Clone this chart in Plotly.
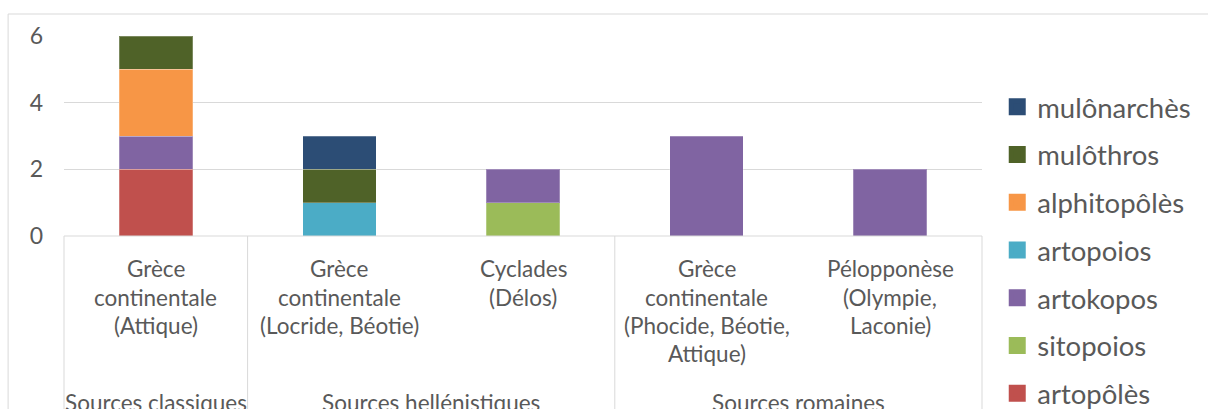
import plotly.graph_objects as go

# ---- data ----
categories = [
    "Grèce continentale (Attique)",
    "Grèce continentale (Locride, Béotie)",
    "Cyclades (Délos)",
    "Grèce continentale (Phocide, Béotie, Attique)",
    "Pélopponèse (Olympie, Laconie)",
]
category_lines = [
    ["Grèce", "continentale", "(Attique)"],
    ["Grèce", "continentale", "(Locride, Béotie)"],
    ["Cyclades", "(Délos)"],
    ["Grèce", "continentale", "(Phocide, Béotie,", "Attique)"],
    ["Pélopponèse", "(Olympie,", "Laconie)"],
]
groups = ["Sources classiques", "Sources hellénistiques", "Sources romaines"]
group_sizes = [1, 2, 2]

artopoles = [2, 0, 0, 0, 0]
sitopoios = [0, 0, 1, 0, 0]
artokopos = [1, 0, 1, 3, 2]
artopoios = [0, 1, 0, 0, 0]
alphitopoles = [2, 0, 0, 0, 0]
mulothros = [1, 1, 0, 0, 0]
mulonarches = [0, 1, 0, 0, 0]

y_ticks = [0, 2, 4, 6]

series = [
    ("artopôlès", artopoles, "#C0504D"),
    ("sitopoios", sitopoios, "#9BBB59"),
    ("artokopos", artokopos, "#8064A2"),
    ("artopoios", artopoios, "#4BACC6"),
    ("alphitopôlès", alphitopoles, "#F79646"),
    ("mulôthros", mulothros, "#4F6228"),
    ("mulônarchès", mulonarches, "#2C4D75"),
]

FONT = "Lato"
TXT = "#595959"
GRID = "#D9D9D9"
W, H = 1208, 440
L, T, PW, PH = 64, 36, 920, 200

fig = go.Figure()
ns = len(series)
for k, (name, vals, col) in enumerate(series):
    fig.add_trace(go.Bar(
        x=categories, y=vals, name=name, legendgroup=name,
        showlegend=False,
        marker=dict(color=col,
                    line=dict(width=[1 if v else 0 for v in vals],
                              color="rgba(255,255,255,0.25)")),
        width=0.4,
    ))
    # legend-only swatch (drawn on a hidden axis, outside its visible range)
    fig.add_trace(go.Bar(
        x=[name], y=[1], name=name, legendgroup=name,
        legendrank=ns - k, xaxis="x2", yaxis="y2",
        marker=dict(color=col, line=dict(width=5, color=col)),
        hoverinfo="skip",
    ))

n = len(categories)
shapes = []
# outer chart border
shapes.append(dict(type="rect", xref="paper", yref="paper",
                   x0=(8 - L) / PW, x1=2, y0=-3, y1=(T + PH - 14) / PH,
                   line=dict(color=GRID, width=1), fillcolor="rgba(0,0,0,0)", layer="below"))
# category axis box lines
shapes.append(dict(type="line", xref="paper", yref="paper", x0=0, x1=1, y0=0, y1=0,
                   line=dict(color=GRID, width=1)))
pos = 0
bounds = [0]
for s in group_sizes:
    pos += s
    bounds.append(pos)
for b in bounds:
    shapes.append(dict(type="line", xref="paper", yref="paper",
                       x0=b / n, x1=b / n, y0=0, y1=-3,
                       line=dict(color=GRID, width=1)))

annotations = []
line_shifts = [-32, -61, -89, -117]
for i, lines in enumerate(category_lines):
    for j, t in enumerate(lines):
        annotations.append(dict(x=categories[i], xref="x", y=0, yref="paper",
                                yshift=line_shifts[j], text=t, showarrow=False,
                                xanchor="center", yanchor="middle",
                                font=dict(family=FONT, size=22.5, color=TXT)))
start = 0
for g, s in zip(groups, group_sizes):
    center = (start + start + s) / 2 / n
    annotations.append(dict(x=center, xref="paper", y=0, yref="paper",
                            yshift=-166, text=g, showarrow=False,
                            xanchor="center", yanchor="middle",
                            font=dict(family=FONT, size=22.5, color=TXT)))
    start += s

fig.update_layout(
    width=W, height=H,
    margin=dict(l=L, r=W - L - PW, t=T, b=H - T - PH),
    paper_bgcolor="white", plot_bgcolor="white",
    barmode="stack",
    showlegend=True,
    legend=dict(traceorder="grouped", tracegroupgap=9,
                x=1.0166, xanchor="left", y=0.768, yanchor="top",
                maxheight=420,
                font=dict(family=FONT, size=27.5, color=TXT),
                bgcolor="rgba(0,0,0,0)"),
    xaxis=dict(type="category", showticklabels=False, showgrid=False,
               zeroline=False, showline=False, ticks="", range=[-0.5, n - 0.5]),
    yaxis=dict(range=[0, 6], tickvals=y_ticks, showgrid=True, gridcolor=GRID,
               gridwidth=1, zeroline=False, showline=False, ticks="",
               ticklabelstandoff=20,
               tickfont=dict(family=FONT, size=23, color=TXT)),
    xaxis2=dict(overlaying="x", visible=False, type="category"),
    yaxis2=dict(overlaying="y", visible=False, range=[10, 11]),
    shapes=shapes,
    annotations=annotations,
    font=dict(family=FONT, color=TXT),
)

fig.write_html("out.html",
               config={"displayModeBar": False},
               post_script="document.body.style.margin='0';"
                           "document.documentElement.style.overflow='hidden';"
                           "document.body.style.overflow='hidden';")
